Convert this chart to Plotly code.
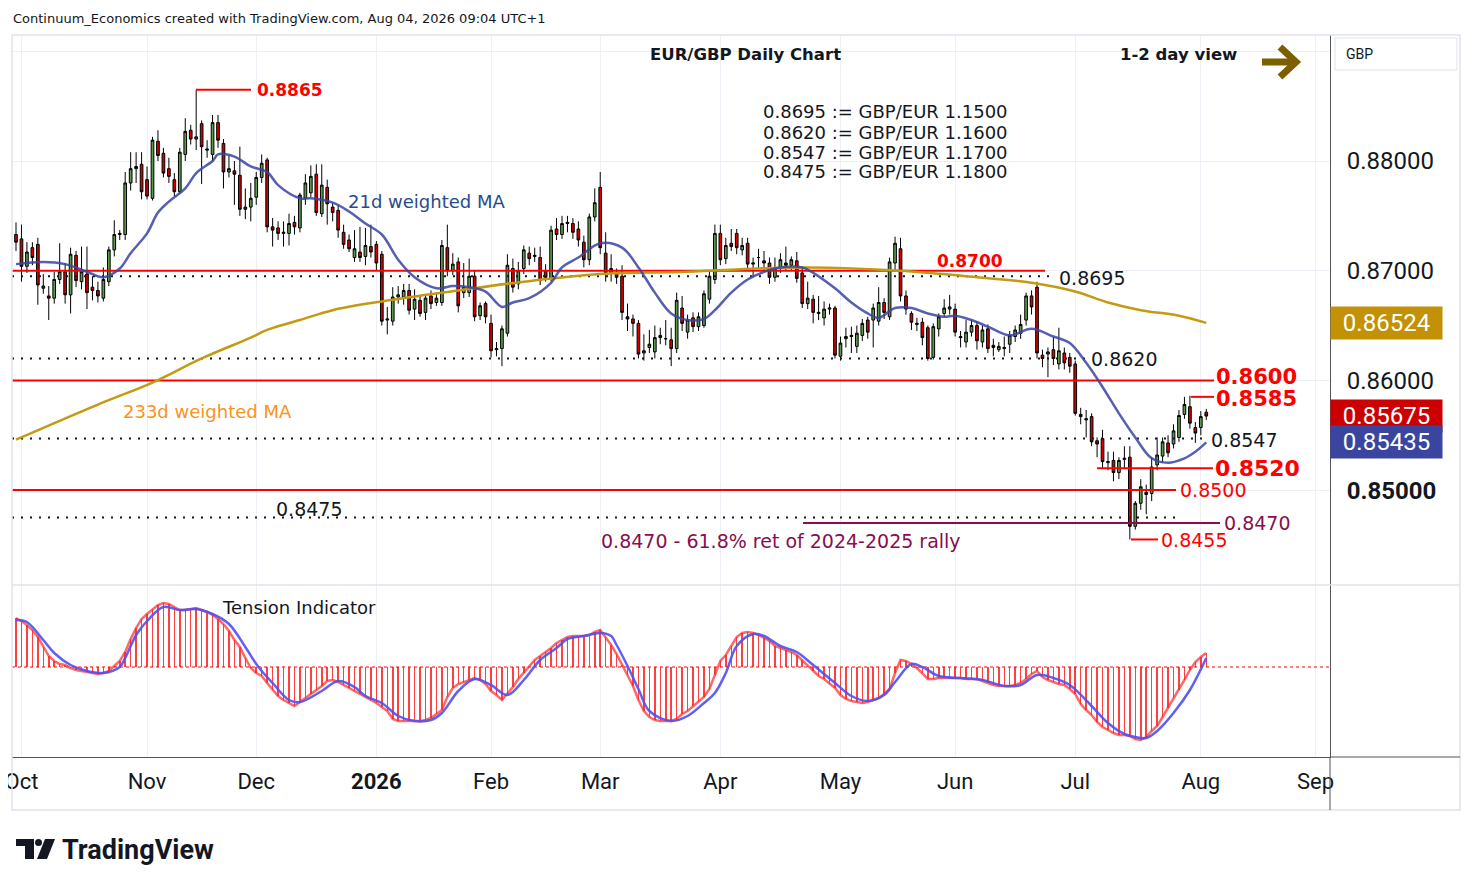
import pandas as pd
import plotly.graph_objects as go
from plotly.subplots import make_subplots

# ---------------- data ----------------
# daily EUR/GBP candles, 30 Sep 2025 .. 04 Aug 2026 (one row per month)
opens = [
    .8733, .8729, .8704, .8721, .8724, .8684, .8677, .8675, .8692, .8699, .8678, .8714, .8690, .8697, .8685, .8682, .8675, .8690, .8719, .8733, .8733, .8780, .8793, .8797,
    .8783, .8766, .8818, .8807, .8793, .8783, .8772, .8806, .8828, .8820, .8834, .8811, .8806, .8835, .8816, .8790, .8791, .8787, .8756, .8758,
    .8767, .8785, .8801, .8740, .8739, .8734, .8734, .8744, .8739, .8766, .8771, .8788, .8752, .8776, .8758, .8755, .8735, .8728, .8712, .8717, .8713, .8722,
    .8724, .8715, .8655, .8654, .8676, .8676, .8682, .8665, .8673, .8662, .8677, .8671, .8671, .8721, .8700, .8708, .8680, .8680, .8695, .8659, .8670,
    .8652, .8628, .8629, .8643, .8702, .8688, .8702, .8716, .8713, .8712, .8700, .8693, .8738, .8733, .8743, .8743, .8738, .8726, .8710, .8749,
    .8776, .8716, .8698, .8698, .8695, .8658, .8656, .8652, .8625, .8630, .8626, .8639, .8638, .8637, .8629, .8666, .8644, .8657, .8649, .8650, .8674, .8692,
    .8734, .8711, .8725, .8734, .8719, .8725, .8706, .8712, .8709, .8707, .8694, .8702, .8707, .8705, .8709, .8698, .8670, .8674, .8661, .8657, .8665, .8666,
    .8622, .8638, .8640, .8631, .8641, .8655, .8655, .8654, .8671, .8658, .8707, .8720, .8677, .8661, .8651, .8653, .8648, .8621, .8647, .8661, .8665,
    .8665, .8640, .8635, .8644, .8650, .8635, .8647, .8632, .8628, .8629, .8633, .8640, .8643, .8655, .8677, .8685, .8623, .8624, .8628, .8615, .8625, .8621,
    .8615, .8569, .8564, .8567, .8545, .8547, .8525, .8527, .8516, .8528, .8530, .8467, .8488, .8496, .8497, .8523, .8531, .8543, .8542, .8548, .8569, .8576, .8557,
    .8557, .8571,
]
highs = [
    .8744, .8742, .8726, .8726, .8730, .8697, .8686, .8699, .8725, .8707, .8721, .8718, .8722, .8722, .8695, .8690, .8703, .8722, .8746, .8737, .8790, .8808, .8808, .8808,
    .8795, .8822, .8828, .8812, .8803, .8789, .8812, .8839, .8833, .8865, .8837, .8819, .8842, .8842, .8820, .8805, .8800, .8813, .8775, .8780,
    .8790, .8806, .8803, .8748, .8745, .8745, .8752, .8750, .8771, .8788, .8796, .8797, .8797, .8783, .8762, .8760, .8742, .8733, .8737, .8740, .8739, .8742,
    .8727, .8718, .8667, .8685, .8686, .8688, .8688, .8683, .8677, .8678, .8682, .8680, .8728, .8742, .8716, .8712, .8707, .8711, .8700, .8671, .8672,
    .8660, .8635, .8650, .8715, .8711, .8708, .8723, .8722, .8721, .8722, .8706, .8741, .8748, .8750, .8750, .8748, .8745, .8732, .8752, .8775,
    .8790, .8735, .8715, .8702, .8705, .8670, .8660, .8655, .8642, .8646, .8650, .8648, .8655, .8648, .8680, .8677, .8660, .8662, .8662, .8682, .8700, .8742,
    .8742, .8730, .8738, .8738, .8730, .8730, .8712, .8720, .8718, .8712, .8712, .8716, .8722, .8713, .8717, .8702, .8690, .8678, .8677, .8672, .8670, .8668,
    .8640, .8648, .8649, .8650, .8656, .8658, .8670, .8685, .8675, .8712, .8731, .8730, .8682, .8663, .8657, .8657, .8650, .8652, .8661, .8674, .8678,
    .8670, .8645, .8655, .8655, .8654, .8650, .8651, .8638, .8635, .8640, .8645, .8650, .8660, .8680, .8682, .8690, .8628, .8630, .8640, .8648, .8630, .8625,
    .8618, .8575, .8573, .8570, .8548, .8555, .8535, .8535, .8530, .8540, .8540, .8490, .8510, .8505, .8530, .8548, .8548, .8550, .8560, .8573, .8585, .8586, .8562,
    .8572, .8574,
]
lows = [
    .8718, .8690, .8698, .8705, .8669, .8679, .8655, .8670, .8688, .8670, .8661, .8685, .8683, .8665, .8673, .8671, .8672, .8686, .8713, .8728, .8728, .8773, .8780, .8765,
    .8765, .8764, .8800, .8785, .8780, .8768, .8770, .8800, .8815, .8810, .8779, .8803, .8800, .8812, .8775, .8785, .8760, .8750, .8747, .8745,
    .8760, .8780, .8735, .8722, .8728, .8722, .8723, .8733, .8735, .8760, .8767, .8750, .8749, .8742, .8745, .8730, .8720, .8717, .8708, .8708, .8705, .8712,
    .8700, .8650, .8642, .8650, .8670, .8669, .8660, .8655, .8658, .8655, .8665, .8668, .8668, .8695, .8696, .8662, .8675, .8676, .8654, .8655, .8652,
    .8621, .8622, .8613, .8640, .8680, .8683, .8697, .8705, .8708, .8687, .8690, .8690, .8728, .8729, .8735, .8729, .8722, .8703, .8705, .8745,
    .8715, .8690, .8690, .8688, .8655, .8645, .8640, .8620, .8618, .8625, .8620, .8633, .8632, .8613, .8625, .8645, .8638, .8644, .8645, .8648, .8670, .8688,
    .8705, .8706, .8718, .8715, .8714, .8700, .8694, .8702, .8700, .8688, .8690, .8698, .8700, .8700, .8689, .8666, .8665, .8652, .8655, .8650, .8660, .8620,
    .8618, .8630, .8625, .8625, .8636, .8638, .8630, .8650, .8656, .8655, .8700, .8672, .8660, .8646, .8645, .8632, .8618, .8619, .8640, .8658, .8660,
    .8640, .8630, .8630, .8640, .8628, .8630, .8625, .8622, .8626, .8622, .8625, .8635, .8638, .8650, .8660, .8620, .8612, .8603, .8614, .8610, .8610, .8607,
    .8568, .8560, .8548, .8540, .8530, .8520, .8518, .8508, .8510, .8520, .8455, .8464, .8482, .8478, .8490, .8518, .8525, .8530, .8538, .8544, .8565, .8556, .8543,
    .8550, .8564,
]
closes = [
    .8726, .8704, .8717, .8712, .8687, .8686, .8675, .8692, .8699, .8678, .8715, .8691, .8699, .8680, .8682, .8677, .8692, .8719, .8733, .8734, .8780, .8793, .8795, .8772,
    .8768, .8819, .8805, .8789, .8786, .8772, .8808, .8827, .8820, .8822, .8813, .8810, .8835, .8819, .8790, .8793, .8788, .8756, .8758, .8766,
    .8785, .8798, .8740, .8737, .8734, .8735, .8743, .8740, .8769, .8780, .8786, .8753, .8778, .8761, .8753, .8737, .8724, .8720, .8720, .8712, .8723, .8717,
    .8707, .8654, .8656, .8676, .8678, .8682, .8664, .8674, .8661, .8675, .8670, .8675, .8723, .8700, .8706, .8668, .8685, .8695, .8658, .8668, .8658,
    .8627, .8629, .8647, .8705, .8685, .8700, .8719, .8711, .8714, .8691, .8694, .8737, .8733, .8743, .8744, .8735, .8728, .8710, .8749, .8762,
    .8721, .8698, .8702, .8694, .8662, .8656, .8652, .8624, .8627, .8633, .8639, .8641, .8638, .8629, .8673, .8652, .8655, .8649, .8658, .8679, .8695, .8734,
    .8710, .8723, .8722, .8721, .8723, .8706, .8707, .8712, .8707, .8694, .8702, .8710, .8705, .8710, .8693, .8670, .8675, .8662, .8662, .8665, .8666, .8623,
    .8634, .8640, .8641, .8643, .8652, .8644, .8666, .8671, .8662, .8708, .8725, .8677, .8665, .8653, .8652, .8639, .8620, .8649, .8658, .8666, .8667,
    .8644, .8639, .8644, .8650, .8636, .8646, .8629, .8630, .8631, .8630, .8641, .8646, .8651, .8677, .8667, .8625, .8620, .8626, .8620, .8627, .8616, .8613,
    .8570, .8567, .8565, .8544, .8542, .8526, .8526, .8516, .8527, .8529, .8467, .8488, .8503, .8498, .8521, .8532, .8544, .8534, .8554, .8568, .8578, .8561, .8552,
    .8567, .85675,
]

# weighted moving averages, sampled off the chart
wma21_dates = [
    "2025-09-30", "2025-10-07", "2025-10-13", "2025-10-17", "2025-10-22", "2025-10-27", "2025-10-29",
    "2025-11-03", "2025-11-05", "2025-11-07", "2025-11-12", "2025-11-14", "2025-11-19", "2025-11-20",
    "2025-11-25", "2025-11-28", "2025-12-03", "2025-12-05", "2025-12-11", "2025-12-15", "2025-12-19",
    "2025-12-24", "2025-12-30", "2026-01-05", "2026-01-08", "2026-01-13", "2026-01-19", "2026-01-22",
    "2026-01-27", "2026-01-30", "2026-02-04", "2026-02-06", "2026-02-11", "2026-02-17", "2026-02-19",
    "2026-02-24", "2026-03-02", "2026-03-06", "2026-03-11", "2026-03-16", "2026-03-19", "2026-03-24",
    "2026-03-27", "2026-03-31", "2026-04-03", "2026-04-08", "2026-04-13", "2026-04-16", "2026-04-22",
    "2026-04-23", "2026-04-30", "2026-05-05", "2026-05-08", "2026-05-12", "2026-05-15", "2026-05-20",
    "2026-05-25", "2026-05-28", "2026-06-01", "2026-06-04", "2026-06-09", "2026-06-15", "2026-06-19",
    "2026-06-25", "2026-06-30", "2026-07-03", "2026-07-08", "2026-07-13", "2026-07-16", "2026-07-21",
    "2026-07-24", "2026-07-29", "2026-07-31", "2026-08-04",
]
wma21 = [
    .8706, .8708, .8706, .8699, .8694, .8702, .8716,
    .8734, .8753, .8763, .8775, .8789, .8800, .8806,
    .8804, .8795, .8790, .8778, .8766, .8766, .8762,
    .8754, .8743, .8733, .8710, .8694, .8684, .8686,
    .8685, .8681, .8667, .8671, .8675, .8689, .8703,
    .8712, .8725, .8721, .8703, .8680, .8661, .8655,
    .8656, .8664, .8680, .8692, .8699, .8703, .8703,
    .8701, .8684, .8671, .8661, .8657, .8666, .8666,
    .8661, .8658, .8659, .8655, .8649, .8641, .8647,
    .8640, .8634, .8616, .8594, .8570, .8548, .8529,
    .8525, .8529, .8535, .85435,
]
wma233_dates = [
    "2025-09-30", "2025-10-21", "2025-11-04", "2025-11-17", "2025-11-28", "2025-12-03", "2025-12-11",
    "2025-12-19", "2026-01-05", "2026-01-23", "2026-02-10", "2026-03-02", "2026-03-24", "2026-04-10",
    "2026-04-23", "2026-05-18", "2026-06-03", "2026-06-19", "2026-07-01", "2026-07-09", "2026-07-17",
    "2026-07-28", "2026-08-04",
]
wma233 = [
    .8546, .8578, .8598, .8620, .8639, .8646, .8655,
    .8664, .8672, .8682, .8690, .8697, .8699, .8702,
    .8703, .8700, .8695, .8689, .8681, .8671, .8664,
    .8659, .86524,
]

# Tension Indicator: raw histogram (one value per candle) and its signal line
tension = [
    49, 46, 42, 37, 30, 20, 11, 6, 3, 2, -1, -3, -4, -5, -6, -7, -6, -4, 1, 6, 15, 28, 39, 48,
    53, 58, 62, 64, 63, 60, 57, 57, 58, 59, 57, 55, 52, 48, 43, 36, 27, 20, 9, -1,
    -6, -9, -16, -23, -29, -33, -36, -39, -35, -31, -27, -23, -19, -14, -13, -15, -18, -21, -24, -27, -30, -33,
    -36, -40, -44, -52, -54, -54, -54, -54, -54, -53, -51, -47, -43, -30, -21, -17, -15, -13, -11, -13, -17,
    -24, -28, -33, -27, -20, -12, -6, 0, 7, 11, 15, 19, 24, 27, 30, 31, 31, 31, 32, 35,
    37, 30, 22, 13, 2, -8, -19, -33, -44, -50, -53, -54, -54, -54, -52, -47, -44, -39, -35, -30, -22, -8,
    6, 12, 21, 30, 34, 35, 34, 32, 29, 26, 21, 19, 17, 15, 12, 7, 1, -4, -9, -12, -17, -21,
    -28, -32, -34, -35, -36, -35, -33, -31, -27, -22, -6, 7, 6, 3, -1, -6, -12, -12, -11, -11, -11,
    -11, -11, -12, -12, -12, -14, -16, -18, -19, -19, -19, -18, -16, -12, -7, -4, -10, -13, -15, -17, -18, -22,
    -27, -37, -43, -48, -55, -60, -63, -66, -68, -68, -69, -72, -73, -70, -64, -59, -50, -41, -31, -23, -13, -3, 5,
    10, 14,
]
signal_dates = [
    "2025-09-30", "2025-10-02", "2025-10-07", "2025-10-09", "2025-10-14", "2025-10-17", "2025-10-22",
    "2025-10-27", "2025-10-28", "2025-10-30", "2025-11-03", "2025-11-06", "2025-11-11", "2025-11-14",
    "2025-11-19", "2025-11-24", "2025-11-27", "2025-12-01", "2025-12-02", "2025-12-04", "2025-12-09",
    "2025-12-11", "2025-12-17", "2025-12-22", "2025-12-26", "2025-12-30", "2026-01-05", "2026-01-08",
    "2026-01-13", "2026-01-16", "2026-01-20", "2026-01-23", "2026-01-28", "2026-02-02", "2026-02-05",
    "2026-02-10", "2026-02-13", "2026-02-18", "2026-02-20", "2026-02-25", "2026-03-02", "2026-03-04",
    "2026-03-05", "2026-03-09", "2026-03-11", "2026-03-13", "2026-03-19", "2026-03-24", "2026-03-27",
    "2026-03-31", "2026-04-02", "2026-04-06", "2026-04-09", "2026-04-13", "2026-04-16", "2026-04-21",
    "2026-04-24", "2026-04-30", "2026-05-05", "2026-05-08", "2026-05-13", "2026-05-15", "2026-05-20",
    "2026-05-22", "2026-05-27", "2026-06-02", "2026-06-08", "2026-06-12", "2026-06-17", "2026-06-22",
    "2026-06-25", "2026-06-30", "2026-07-06", "2026-07-09", "2026-07-14", "2026-07-16", "2026-07-20",
    "2026-07-22", "2026-07-27", "2026-07-30", "2026-08-04",
]
signal = [
    47, 45, 27, 14, 2, -4, -6,
    0, 9, 32, 46, 60, 57, 58,
    53, 43, 20, 3, -4, -16, -33,
    -35, -24, -14, -20, -29, -36, -49,
    -54, -53, -46, -24, -12, -18, -28,
    -13, 7, 19, 28, 31, 34, 31,
    22, 1, -22, -44, -54, -49, -36,
    -26, -6, 21, 33, 31, 21, 15,
    2, -16, -29, -34, -28, -15, 3,
    0, -9, -11, -13, -19, -18, -8,
    -11, -18, -39, -56, -67, -70, -71,
    -64, -46, -23, 9,
]

# horizontal levels drawn on the chart
level_prices = [0.8865, 0.8700, 0.8695, 0.8620, 0.8600, 0.8585, 0.8547, 0.8520, 0.8500, 0.8475, 0.8470, 0.8455]
fx_levels = [0.8695, 0.8620, 0.8547, 0.8475]
gbpeur_rates = [1.15, 1.16, 1.17, 1.18]

month_ticks = ["2025-10-01", "2025-11-03", "2025-12-01", "2026-01-02", "2026-02-02", "2026-03-02",
               "2026-04-01", "2026-05-01", "2026-06-01", "2026-07-01", "2026-08-03", "2026-09-01"]
month_labels = ["Oct", "Nov", "Dec", "<b>2026</b>", "Feb", "Mar", "Apr", "May", "Jun", "Jul", "Aug", "Sep"]
holidays = ["2025-12-25", "2026-01-01"]

# ---------------- layout helpers ----------------
PAGE_PAD = 8                             # the browser's default body margin
W, H = 1474 - PAGE_PAD, 887 - PAGE_PAD
PL, PR, PT, PB = 12, 1330, 35, 757      # plot area in screen pixels
SPLIT = 585                              # boundary between price and indicator panes
BAR0_X, BAR_W = 16, 5.46                 # screen x of the first candle, candle spacing
LABEL_FONT = "DejaVu Sans"
AXIS_FONT = "Roboto"
RED, MAROON, INK = "#ff0000", "#880e4f", "#131722"
GRID = "#edf0f5"
FRAME = "#e0e3eb"
AXISLINE = "#50535e"


def px(x):
    return (x - PL) / (PR - PL)


def py(y):
    return (PB - y) / (PB - PT)


dates = pd.bdate_range("2025-09-30", "2026-08-04")
dates = dates[~dates.isin(pd.to_datetime(holidays))]
assert len(dates) == len(closes) == len(tension)

# trading calendar running past the last candle, to place drawings on the time scale
calendar = pd.bdate_range("2025-09-29", "2026-09-30")
calendar = calendar[~calendar.isin(pd.to_datetime(holidays))]


def date_at(x):
    kf = (x - BAR0_X) / BAR_W + 1
    i = int(kf // 1)
    return calendar[i] + pd.Timedelta(days=kf - i)


fig = make_subplots(rows=2, cols=1, shared_xaxes=True, vertical_spacing=0,
                    row_heights=[SPLIT - PT, PB - SPLIT])

# level lines: span in pixels, colour, dotted, label x, label size, bold, label y shift
level_style = [
    (196, 251, RED, False, 256, 17, True, 0),
    (12, 1045, RED, False, 936, 17, True, 10),
    (12, 1052, INK, True, 1058, 19, False, -2),
    (12, 1086, INK, True, 1090, 19, False, -1),
    (12, 1214, RED, False, 1215, 21, True, 3),
    (1191, 1214, RED, False, 1215, 21, True, -2),
    (12, 1206, INK, True, 1210, 19, False, -1),
    (1097, 1213, RED, False, 1214, 22, True, 0),
    (12, 1176, RED, False, 1179, 19, False, 0),
    (12, 1176, INK, True, 275, 19, False, 9),
    (803, 1220, MAROON, False, 1223, 19, False, 0),
    (1131, 1158, RED, False, 1160, 19, False, -1),
]
for price, (x0, x1, col, dotted, lx, size, bold, dy) in zip(level_prices, level_style):
    fig.add_trace(go.Scatter(x=[date_at(x0), date_at(x1)], y=[price, price], mode="lines",
                             line=dict(color=col, width=2, dash="2px,7px" if dotted else "solid"),
                             hoverinfo="skip"), row=1, col=1)

# --- price pane ---
fig.add_trace(go.Candlestick(
    x=dates, open=opens, high=highs, low=lows, close=closes,
    increasing=dict(fillcolor="#5b9a4a", line=dict(color="#000000", width=1)),
    decreasing=dict(fillcolor="#d40000", line=dict(color="#000000", width=1)),
    whiskerwidth=0, hoverinfo="skip"), row=1, col=1)
fig.add_trace(go.Scatter(x=pd.to_datetime(wma233_dates), y=wma233, mode="lines",
                         line=dict(color="#c49a14", width=2.5, shape="spline"),
                         hoverinfo="skip"), row=1, col=1)
fig.add_trace(go.Scatter(x=pd.to_datetime(wma21_dates), y=wma21, mode="lines",
                         line=dict(color="#3a44a3", width=2.5, shape="spline"),
                         opacity=0.85, hoverinfo="skip"), row=1, col=1)

# --- tension pane ---
fig.add_trace(go.Scatter(x=[date_at(PL), date_at(PR)], y=[0, 0], mode="lines",
                         line=dict(color=RED, width=1, dash="dot"), hoverinfo="skip"), row=2, col=1)
fig.add_trace(go.Bar(x=dates, y=tension, width=0.28 * 86400000,
                     marker=dict(color="rgba(255,0,0,0.75)", line=dict(width=0)),
                     hoverinfo="skip"), row=2, col=1)
fig.add_trace(go.Scatter(x=dates, y=tension, mode="lines",
                         line=dict(color="rgba(255,40,40,0.7)", width=2.5),
                         hoverinfo="skip"), row=2, col=1)
fig.add_trace(go.Scatter(x=pd.to_datetime(signal_dates), y=signal, mode="lines",
                         line=dict(color="rgba(80,80,240,0.9)", width=2.5, shape="spline"),
                         hoverinfo="skip"), row=2, col=1)

rb = [dict(bounds=["sat", "mon"]), dict(values=holidays)]
fig.update_xaxes(rangebreaks=rb, range=[date_at(PL), date_at(PR)],
                 tickvals=month_ticks, ticktext=month_labels,
                 showgrid=True, gridcolor=GRID, gridwidth=1, ticks="", zeroline=False,
                 rangeslider_visible=False, automargin=False)
fig.update_xaxes(showticklabels=False, row=1, col=1)
fig.update_xaxes(showline=True, linecolor=AXISLINE, linewidth=1, ticklabeloverflow="allow",
                 tickfont=dict(family=AXIS_FONT, size=22, color=INK),
                 ticklabelstandoff=5, row=2, col=1)

fig.update_yaxes(side="right", range=[0.841349, 0.891486],
                 tickvals=[0.85, 0.86, 0.87, 0.88, 0.89],
                 ticktext=["<b>0.85000</b>", "0.86000", "0.87000", "0.88000", ""],
                 showgrid=True, gridcolor=GRID, ticks="", zeroline=False,
                 showline=True, linecolor=AXISLINE, linewidth=1, automargin=False,
                 tickfont=dict(family=AXIS_FONT, size=24, color=INK),
                 ticklabelstandoff=11, row=1, col=1)
fig.update_yaxes(side="right", range=[-90, 82], showticklabels=False, showgrid=False,
                 zeroline=False, ticks="", showline=True, linecolor=AXISLINE, linewidth=1,
                 automargin=False, row=2, col=1)

shapes = []
annotations = []

for price, (x0, x1, col, dotted, lx, size, bold, dy) in zip(level_prices, level_style):
    txt = f"{price:.4f}"
    annotations.append(dict(xref="paper", yref="y", x=px(lx), y=price, yshift=dy,
                            xanchor="left", yanchor="middle", showarrow=False,
                            text=f"<b>{txt}</b>" if bold else txt, borderpad=0,
                            font=dict(family=LABEL_FONT, size=size, color=col)))
annotations.append(dict(xref="paper", yref="y", x=px(599), y=level_prices[10], yshift=-18,
                        xanchor="left", yanchor="middle", showarrow=False,
                        text=f"{level_prices[10]:.4f} - 61.8% ret of 2024-2025 rally",
                        font=dict(family=LABEL_FONT, size=19, color=MAROON)))

# conversion table
for i, (lvl, rate) in enumerate(zip(fx_levels, gbpeur_rates)):
    annotations.append(dict(xref="paper", yref="paper", x=px(761), y=py(112 + 20 * i),
                            xanchor="left", yanchor="middle", showarrow=False,
                            text=f"{lvl:.4f} := GBP/EUR {rate:.4f}",
                            font=dict(family=LABEL_FONT, size=18, color=INK)))

# moving average labels
annotations.append(dict(xref="paper", yref="paper", x=px(346), y=py(201), xanchor="left",
                        yanchor="middle", showarrow=False, text="21d weighted MA",
                        font=dict(family=LABEL_FONT, size=18, color="#284b8c")))
annotations.append(dict(xref="paper", yref="paper", x=px(121), y=py(411), xanchor="left",
                        yanchor="middle", showarrow=False, text="233d weighted MA",
                        font=dict(family=LABEL_FONT, size=18, color="#f7931e")))
annotations.append(dict(xref="paper", yref="paper", x=px(220), y=py(607), xanchor="left",
                        yanchor="middle", showarrow=False, text="Tension Indicator",
                        font=dict(family=LABEL_FONT, size=18, color=INK)))

# titles
annotations.append(dict(xref="paper", yref="paper", x=px(745), y=py(55), xanchor="center",
                        yanchor="middle", showarrow=False, text="<b>EUR/GBP Daily Chart</b>",
                        font=dict(family=LABEL_FONT, size=16.5, color=INK)))
annotations.append(dict(xref="paper", yref="paper", x=px(1118), y=py(55), xanchor="left",
                        yanchor="middle", showarrow=False, text="<b>1-2 day view</b>",
                        font=dict(family=LABEL_FONT, size=16.5, color=INK)))
annotations.append(dict(xref="paper", yref="paper", x=px(11), y=py(19), xanchor="left",
                        yanchor="middle", showarrow=False,
                        text="Continuum_Economics created with TradingView.com, Aug 04, 2026 09:04 UTC+1",
                        font=dict(family=LABEL_FONT, size=13, color=INK)))

# olive arrow next to the view
OLIVE = "#7d5f00"
shapes.append(dict(type="line", xref="paper", yref="paper", x0=px(1262), x1=px(1292),
                   y0=py(62), y1=py(62), line=dict(color=OLIVE, width=7)))
shapes.append(dict(type="path", xref="paper", yref="paper",
                   path=f"M {px(1280)} {py(47)} L {px(1296)} {py(62)} L {px(1280)} {py(77)}",
                   line=dict(color=OLIVE, width=7)))

# last-value boxes on the price scale
for val, col in [(wma233[-1], "#c29106"), (closes[-1], "#cc0000"), (wma21[-1], "#3a45a0")]:
    annotations.append(dict(xref="paper", yref="y", x=1, y=val, xanchor="left", yanchor="middle",
                            showarrow=False, text=f"{val:.5f}", bgcolor=col, width=107, height=28,
                            borderpad=2, font=dict(family=AXIS_FONT, size=24, color="white")))

# GBP currency box
shapes.append(dict(type="rect", xref="paper", yref="paper", x0=px(1335), x1=px(1457),
                   y0=py(70), y1=py(38), line=dict(color=FRAME, width=1), fillcolor="white"))
annotations.append(dict(xref="paper", yref="paper", x=px(1344), y=py(54), xanchor="left",
                        yanchor="middle", showarrow=False, text="GBP",
                        font=dict(family=AXIS_FONT, size=14, color=INK)))

# frame and pane separators
shapes.append(dict(type="rect", xref="paper", yref="paper", x0=px(12), x1=px(1460),
                   y0=py(810), y1=py(35), line=dict(color=FRAME, width=1.5)))
shapes.append(dict(type="line", xref="paper", yref="paper", x0=px(12), x1=px(1460),
                   y0=py(SPLIT), y1=py(SPLIT), line=dict(color=FRAME, width=1.5)))
shapes.append(dict(type="line", xref="paper", yref="paper", x0=px(1330), x1=px(1460),
                   y0=py(PB), y1=py(PB), line=dict(color=AXISLINE, width=1)))
shapes.append(dict(type="line", xref="paper", yref="paper", x0=px(1330), x1=px(1330),
                   y0=py(810), y1=py(PB), line=dict(color=AXISLINE, width=1)))

# TradingView logo
shapes.append(dict(type="path", xref="paper", yref="paper", fillcolor=INK, line=dict(width=0),
                   path=(f"M {px(16)} {py(839)} L {px(34)} {py(839)} L {px(34)} {py(859)} "
                         f"L {px(25)} {py(859)} L {px(25)} {py(846)} L {px(16)} {py(846)} Z")))
shapes.append(dict(type="circle", xref="paper", yref="paper", fillcolor=INK, line=dict(width=0),
                   x0=px(35), x1=px(42), y0=py(846), y1=py(839)))
shapes.append(dict(type="path", xref="paper", yref="paper", fillcolor=INK, line=dict(width=0),
                   path=(f"M {px(45)} {py(839)} L {px(55)} {py(839)} L {px(47)} {py(859)} "
                         f"L {px(37)} {py(859)} Z")))
annotations.append(dict(xref="paper", yref="paper", x=px(60), y=py(850), xanchor="left",
                        yanchor="middle", showarrow=False, text="<b>TradingView</b>",
                        font=dict(family=AXIS_FONT, size=27, color=INK)))

fig.update_layout(
    width=W, height=H, autosize=False,
    margin=dict(l=PL - PAGE_PAD, r=W - (PR - PAGE_PAD), t=PT - PAGE_PAD, b=H - (PB - PAGE_PAD)),
    plot_bgcolor="white", paper_bgcolor="white",
    showlegend=False, bargap=0, hovermode=False,
    shapes=shapes, annotations=annotations,
)

fig.write_html("out.html")
